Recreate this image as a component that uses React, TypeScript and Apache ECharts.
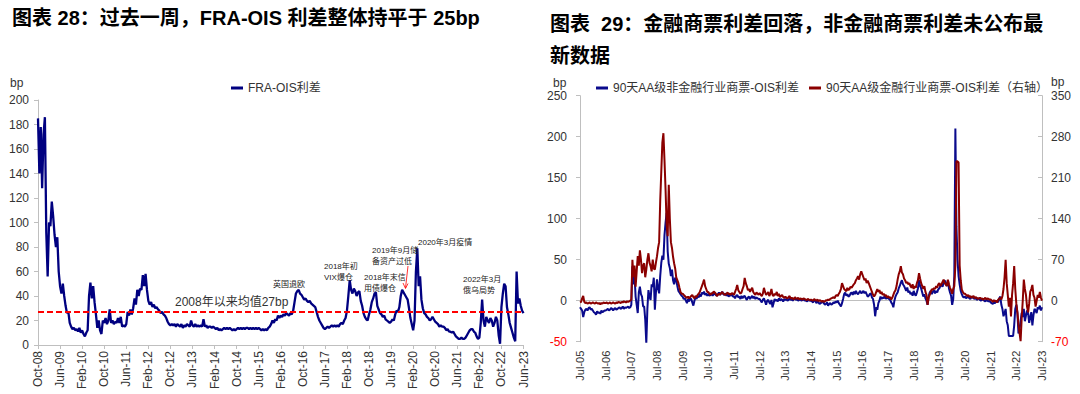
import React, { useEffect, useRef } from "react";
import * as echarts from "echarts";

// ---------- DATA ----------
// FRA-OIS spread (bp), semi-monthly from Oct-08 to Jun-23
const fraOisSpread = [
  185,140,178,128,172,186,92,56,100,97,117,105,90,80,88,60,
  48,42,50,40,32,26,27,18,15,13,14,12,13,11,14,10,
  12,9,7,10,12,40,51,38,48,35,25,14,20,12,9,20,
  18,22,17,20,29,18,20,17,19,18,22,18,23,15,16,15,
  17,27,24,29,25,30,38,33,45,40,46,45,57,48,58,45,
  36,33,35,31,33,30,31,29,28,26,27,25,24,22,19,17,
  16,17,16,17,15,17,16,15,17,14,16,15,17,16,15,20,
  16,15,17,15,16,15,16,15,21,15,16,14,15,15,14,15,
  14,13,14,12,13,12,13,14,13,14,13,14,13,12,13,12,
  13,14,13,14,13,14,13,14,14,13,14,13,14,13,14,13,
  14,13,12,13,12,13,12,14,15,17,20,18,21,20,24,22,
  24,23,25,24,26,25,24,26,25,28,35,42,44,45,42,41,
  39,37,38,36,35,36,34,33,32,31,27,23,20,18,16,14,
  13,14,15,14,15,16,15,16,15,16,15,17,18,17,20,22,
  28,40,53,45,42,46,44,40,43,44,36,32,26,23,21,20,
  25,29,35,38,42,43,32,29,26,25,23,24,21,20,19,18,
  19,21,20,25,28,27,31,40,45,43,41,39,37,30,22,17,
  12,20,60,79,48,56,37,30,26,25,23,22,20,21,23,21,
  19,18,17,15,16,15,15,14,12,13,11,11,10,11,9,7,
  6,5,5,6,5,5,6,8,10,12,13,13,11,10,7,5,
  6,18,37,20,15,23,20,18,22,20,15,18,23,20,8,1,
  31,42,50,48,31,25,18,14,10,6,3,60,34,38,32,28,
  26,
];
const fraMean = 27;
const fraStart = { year: 2008, month: 9 }; // Oct-08

// 90-day AA CP - OIS spreads (bp), semi-monthly from Jul-05 to Jul-23
const nonFinCpSpread = [
  -8,-10,-12,-20,-14,-11,-10,-12,-9,-8,-11,-10,-12,-14,-15,-17,-13,-15,-14,-16,-12,-14,-13,-12,
  -12,-11,-10,-12,-11,-9,-10,-12,-10,-9,-11,-10,-9,-8,-10,-9,-7,-10,-8,-9,-8,-7,-9,-8,
  -5,42,20,30,5,-5,-15,10,17,8,5,-7,-7,-23,-52,-10,13,5,1,20,17,28,-11,10,
  26,15,9,30,46,55,50,80,95,107,60,45,40,30,38,25,20,28,25,18,12,10,8,6,
  5,2,3,0,-3,2,-1,3,2,-2,-6,0,4,2,6,4,8,5,10,8,11,7,9,6,
  8,6,7,9,6,8,9,7,6,8,10,7,9,11,8,7,9,6,8,5,7,6,8,5,
  5,3,6,7,4,5,2,6,3,5,6,3,1,4,5,2,4,6,3,5,2,4,3,2,
  2,0,-2,1,3,-1,-5,0,1,-2,-4,1,-8,-3,2,0,1,-1,3,0,2,1,-1,2,
  1,2,0,1,3,1,2,0,2,3,1,2,0,1,2,0,1,2,0,1,-1,0,1,0,
  0,-1,-2,1,0,-3,-1,-2,-4,-3,-2,-1,-3,-5,-4,-2,-6,-4,-3,-5,-4,-2,-3,-1,
  -2,0,-3,-5,-7,-3,2,8,10,6,8,5,6,9,10,7,11,8,12,9,8,10,12,9,
  10,12,9,11,8,5,6,8,9,4,2,-5,-19,-8,-11,-3,0,5,2,4,3,6,2,4,
  3,2,1,-2,-4,-8,0,5,8,10,15,18,22,25,20,18,15,12,16,10,12,8,10,6,
  12,8,6,10,15,25,18,15,10,5,8,3,0,-5,5,10,12,8,11,13,9,12,10,14,
  15,18,20,17,22,25,20,18,25,15,10,6,-5,2,30,210,90,50,30,20,12,8,5,4,
  5,3,4,6,3,2,5,4,3,2,4,1,2,3,1,0,2,1,0,-1,1,0,-1,0,
  -2,-3,-4,-2,-3,-1,0,-2,3,5,-5,-10,-19,-15,-10,-25,-30,-43,-43,-43,-43,-43,-30,-10,
  -5,-15,-40,-35,-25,-15,-20,-10,-25,-18,-12,-15,-27,-20,-14,-30,-18,-10,-12,-15,-8,-10,-6,-12,
  -8,
];
const finCpSpread = [
  -3,-2,4,8,-2,-4,-3,-5,-4,-3,-5,-4,-3,-4,-5,-3,-4,-5,-4,-6,-4,-5,-3,-4,
  -4,-3,-5,-4,-3,-5,-4,-3,-4,-5,-3,-4,-2,-3,-4,-2,-3,-1,-2,-3,-1,-2,-1,0,
  2,70,40,60,24,50,76,60,86,70,47,60,64,40,53,70,81,65,59,50,70,55,53,65,
  76,90,100,170,220,270,286,240,190,130,110,198,140,100,90,75,64,55,40,35,30,22,15,12,
  12,10,8,6,5,7,4,6,8,10,6,4,8,6,10,12,15,20,25,30,36,25,20,15,
  15,12,10,13,12,16,14,12,8,10,12,10,13,15,12,11,10,12,14,11,12,10,13,12,
  10,15,20,27,18,15,12,14,20,25,39,30,25,18,20,15,19,22,15,12,10,14,12,10,
  13,10,8,12,22,15,10,12,15,8,12,20,10,8,12,10,15,8,12,6,8,10,6,5,
  7,5,4,6,8,3,5,4,2,6,4,3,5,2,4,3,2,4,3,2,1,3,2,1,
  2,1,0,3,1,0,2,-1,1,0,-2,0,-2,-1,1,0,2,1,3,4,5,6,4,8,
  10,8,12,15,20,30,25,20,18,16,22,18,20,24,22,25,28,30,35,38,42,36,45,50,
  45,40,35,38,30,34,30,25,20,15,10,7,10,15,20,15,18,12,15,10,12,8,10,5,
  8,5,6,2,5,10,15,18,25,36,45,50,59,48,45,38,35,30,32,28,30,25,22,28,
  20,25,22,30,35,47,38,30,25,20,25,15,10,-7,5,10,15,20,18,22,20,25,22,28,
  30,25,28,32,36,30,28,25,36,28,22,18,12,20,25,60,238,238,236,60,35,19,15,12,
  12,10,8,10,6,8,5,7,8,4,6,5,3,4,5,3,4,2,3,5,2,4,3,2,
  2,0,-2,1,-1,0,-3,2,3,5,2,8,20,40,70,30,10,-10,5,-27,10,30,59,20,
  -5,-20,-40,-55,-69,-30,0,36,20,10,-10,-20,-5,15,20,27,10,5,-10,0,10,5,15,5,
  0,
];
const cpStart = { year: 2005, month: 6 }; // Jul-05

const fraName = "FRA-OIS利差";
const nonFinName = "90天AA级非金融行业商票-OIS利差";
const finName = "90天AA级金融行业商票-OIS利差（右轴）";
const monthNames = ["Jan","Feb","Mar","Apr","May","Jun","Jul","Aug","Sep","Oct","Nov","Dec"];

const annotations = [
  { text: "英国退欧", x: 273, y: 284 },
  { text: "2018年初\nVIX爆仓", x: 324, y: 272 },
  { text: "2018年末信\n用债爆仓", x: 364, y: 283 },
  { text: "2019年9月储\n备资产过低", x: 372, y: 256 },
  { text: "2020年3月疫情", x: 418, y: 242 },
  { text: "2022年3月\n俄乌局势", x: 463, y: 285 },
];

// ---------- STYLE ----------
const FONT = '"Liberation Sans", Arial, "Noto Sans CJK SC", sans-serif';
const AXIS_GRAY = "#bfbfbf";
const TEXT = "#333333";
const NAVY = "#000080";
const DARK_BLUE = "#0a0a8c";
const DARK_RED = "#8b0000";

function monthLabel(start: { year: number; month: number }, m: number) {
  const idx = start.month + Math.round(m);
  const mon = monthNames[((idx % 12) + 12) % 12];
  const yy = (start.year + Math.floor(idx / 12)) % 100;
  return `${mon}-${yy < 10 ? "0" + yy : yy}`;
}

const negLabel = (v: number) => (v < 0 ? `{neg|${v}}` : `${v}`);

export default function App() {
  const ref = useRef<HTMLDivElement>(null);
  useEffect(() => {
    if (!ref.current) return;
    const chart = echarts.init(ref.current, undefined, { renderer: "svg" });
    const lbl = { fontFamily: FONT, color: TEXT };
    const option: any = {
      animation: false,
      textStyle: { fontFamily: FONT },
      title: [
        {
          text: "图表 28：过去一周，FRA-OIS 利差整体持平于 25bp",
          left: 7, top: 3,
          textStyle: { fontFamily: FONT, fontSize: 20, fontWeight: "bold", color: "#000" },
        },
        {
          text: "图表  29：金融商票利差回落，非金融商票利差未公布最\n新数据",
          left: 545, top: 3,
          textStyle: { fontFamily: FONT, fontSize: 20, fontWeight: "bold", color: "#000", lineHeight: 32 },
        },
      ],
      legend: [
        { data: [fraName], left: 226, top: 77, icon: "rect", itemWidth: 12, itemHeight: 3, textStyle: { ...lbl, fontSize: 12 } },
        { data: [nonFinName], left: 591, top: 77, icon: "rect", itemWidth: 12, itemHeight: 3, textStyle: { ...lbl, fontSize: 12 } },
        { data: [finName], left: 804, top: 77, icon: "rect", itemWidth: 12, itemHeight: 3, textStyle: { ...lbl, fontSize: 12 } },
      ],
      grid: [
        { left: 38, top: 100, width: 485.5, height: 245 },
        { left: 580, top: 95.7, width: 462, height: 246 },
      ],
      xAxis: [
        {
          gridIndex: 0, type: "value", min: 0, max: 176, interval: 8,
          axisLine: { onZero: false, lineStyle: { color: AXIS_GRAY } },
          axisTick: { show: true, length: 4, lineStyle: { color: AXIS_GRAY } },
          axisLabel: { ...lbl, fontSize: 12, rotate: 90, margin: 6, formatter: (v: number) => monthLabel(fraStart, v) },
          splitLine: { show: false },
        },
        {
          gridIndex: 1, type: "value", min: 0, max: 216, interval: 12,
          axisLine: { show: false, onZero: false },
          axisTick: { show: false },
          axisLabel: { ...lbl, fontSize: 11, rotate: 90, margin: 9, formatter: (v: number) => monthLabel(cpStart, v) },
          splitLine: { show: false },
        },
        {
          gridIndex: 1, type: "value", min: 0, max: 216, interval: 12,
          axisLine: { show: true, onZero: true, onZeroAxisIndex: 1, lineStyle: { color: AXIS_GRAY } },
          axisTick: { show: false },
          axisLabel: { show: false },
          splitLine: { show: false },
        },
      ],
      yAxis: [
        {
          gridIndex: 0, type: "value", min: 0, max: 200, interval: 20,
          axisLine: { show: true, onZero: false, lineStyle: { color: AXIS_GRAY } },
          axisTick: { show: true, length: 4, lineStyle: { color: AXIS_GRAY } },
          axisLabel: { ...lbl, fontSize: 12, margin: 9 },
          splitLine: { show: false },
        },
        {
          gridIndex: 1, type: "value", position: "left", min: -50, max: 250, interval: 50,
          axisLine: { show: true, onZero: false, lineStyle: { color: AXIS_GRAY } },
          axisTick: { show: true, length: 4, lineStyle: { color: AXIS_GRAY } },
          axisLabel: { ...lbl, fontSize: 12, margin: 13, formatter: negLabel, rich: { neg: { color: "#ff0000", fontSize: 12, fontFamily: FONT } } },
          splitLine: { show: false },
        },
        {
          gridIndex: 1, type: "value", position: "right", min: -70, max: 350, interval: 70,
          axisLine: { show: true, onZero: false, lineStyle: { color: AXIS_GRAY } },
          axisTick: { show: true, length: 4, inside: true, lineStyle: { color: AXIS_GRAY } },
          axisLabel: { ...lbl, fontSize: 12, margin: 9, formatter: negLabel, rich: { neg: { color: "#ff0000", fontSize: 12, fontFamily: FONT } } },
          splitLine: { show: false },
        },
      ],
      series: [
        {
          type: "line", name: fraName, xAxisIndex: 0, yAxisIndex: 0,
          data: fraOisSpread.map((v, i) => [i / 2, v]),
          symbol: "none", showSymbol: false,
          lineStyle: { color: NAVY, width: 2.3 }, itemStyle: { color: NAVY },
          markLine: {
            silent: true, symbol: "none", animation: false,
            label: { show: false },
            lineStyle: { color: "#ff0000", type: [6, 3], width: 2 },
            data: [{ yAxis: fraMean }],
          },
          z: 3,
        },
        {
          type: "line", name: nonFinName, xAxisIndex: 1, yAxisIndex: 1,
          data: nonFinCpSpread.map((v, i) => [i / 2, v]),
          symbol: "none", showSymbol: false,
          lineStyle: { color: DARK_BLUE, width: 2 }, itemStyle: { color: DARK_BLUE },
          z: 3,
        },
        {
          type: "line", name: finName, xAxisIndex: 1, yAxisIndex: 2,
          data: finCpSpread.map((v, i) => [i / 2, v]),
          symbol: "none", showSymbol: false,
          lineStyle: { color: DARK_RED, width: 2 }, itemStyle: { color: DARK_RED },
          z: 4,
        },
      ],
      graphic: [
        { type: "text", x: 10, y: 83, style: { text: "bp", fill: TEXT, font: `12px ${FONT}`, verticalAlign: "middle" } },
        { type: "text", x: 553, y: 83, style: { text: "bp", fill: TEXT, font: `12px ${FONT}`, verticalAlign: "middle" } },
        { type: "text", x: 1051, y: 82, style: { text: "bp", fill: TEXT, font: `12px ${FONT}`, verticalAlign: "middle" } },
        { type: "text", x: 175, y: 302, style: { text: "2008年以来均值27bp", fill: TEXT, font: `12px ${FONT}`, verticalAlign: "middle" } },
        ...annotations.map((a) => ({
          type: "text", x: a.x, y: a.y, z: 10,
          style: { text: a.text, fill: "#222", font: `8px ${FONT}`, lineHeight: 10.5, verticalAlign: "middle" },
        })),
        { type: "line", z: 10, shape: { x1: 408, y1: 266, x2: 405.5, y2: 288 }, style: { stroke: "#ff0000", lineWidth: 0.8 } },
        { type: "polyline", z: 10, shape: { points: [[403, 283], [405.5, 288.5], [408, 283.5]] }, style: { stroke: "#ff0000", lineWidth: 0.8, fill: "none" } },
      ],
    };
    chart.setOption(option);
    return () => chart.dispose();
  }, []);
  return <div ref={ref} style={{ position: "absolute", left: 0, top: 0, width: 1080, height: 394 }} />;
}
